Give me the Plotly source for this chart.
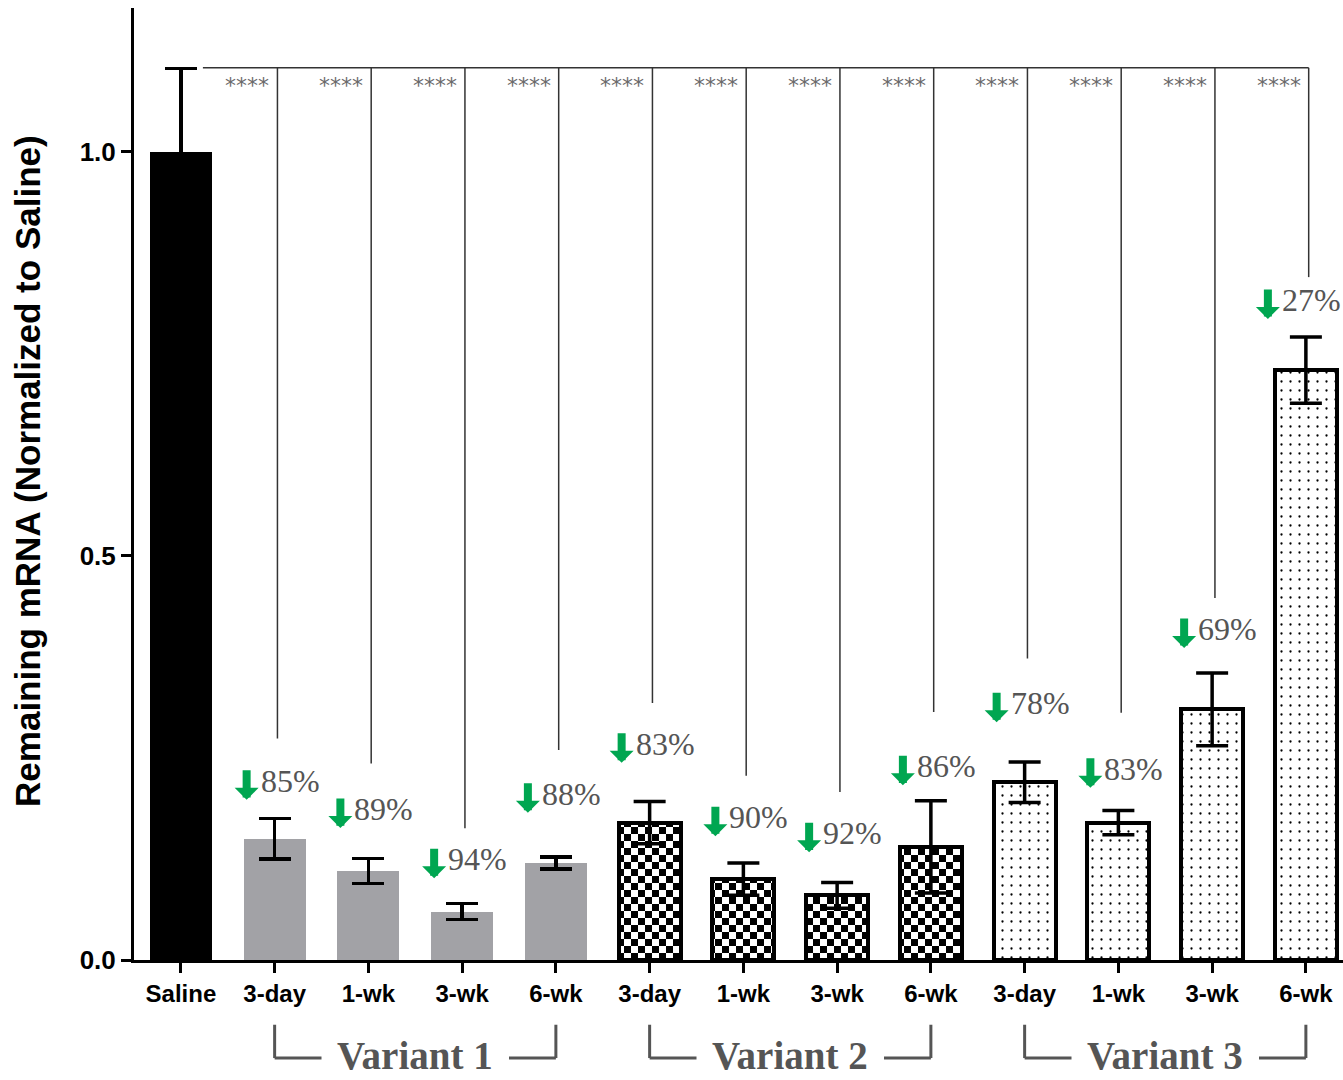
import plotly.graph_objects as go

# ---- data -------------------------------------------------------------
categories = ["Saline",
              "3-day", "1-wk", "3-wk", "6-wk",
              "3-day", "1-wk", "3-wk", "6-wk",
              "3-day", "1-wk", "3-wk", "6-wk"]
knockdown_pct = [None, 85, 89, 94, 88, 83, 90, 92, 86, 78, 83, 69, 27]
remaining = [1.0] + [round(1 - p / 100, 2) for p in knockdown_pct[1:]]
sem = [0.103, 0.025, 0.0155, 0.010, 0.0075,
       0.026, 0.020, 0.016, 0.057,
       0.025, 0.015, 0.045, 0.041]
groups = ["Variant 1", "Variant 2", "Variant 3"]
group_members = [[1, 2, 3, 4], [5, 6, 7, 8], [9, 10, 11, 12]]

# significance bracket: common top and the lower end of each drop line
sig_top = 1.104
sig_line_bottom = [0.274, 0.243, 0.163, 0.260, 0.318, 0.228,
                   0.208, 0.307, 0.373, 0.306, 0.448, 0.845]
sig_text = "****"
# vertical centre of each knockdown label
label_y = [0.218, 0.183, 0.121, 0.202, 0.264, 0.173,
           0.153, 0.236, 0.314, 0.233, 0.406, 0.813]

x_pos = list(range(len(categories)))
BAR_W = 0.66
SANS = "Liberation Sans, Arial, sans-serif"
SERIF = "Liberation Serif, Times New Roman, serif"
GREEN = "#00a651"

fig = go.Figure()


def add_bars(idx, marker, name):
    fig.add_trace(go.Bar(
        x=[x_pos[i] for i in idx],
        y=[remaining[i] for i in idx],
        width=BAR_W,
        marker=marker,
        error_y=dict(type="data", array=[sem[i] for i in idx],
                     color="black", thickness=3.5, width=16),
        name=name, showlegend=False, hoverinfo="skip",
    ))


add_bars([0], dict(color="black", line=dict(width=0)), "Saline")
add_bars(group_members[0], dict(color="#a2a2a6", line=dict(width=0)), groups[0])
add_bars(group_members[1], dict(
    color="white", line=dict(color="black", width=4),
    pattern=dict(path="M0,0H7V7H0Z M7,7H14V14H7Z", size=14,
                 fgcolor="black", bgcolor="white", fgopacity=1),
), groups[1])
add_bars(group_members[2], dict(
    color="white", line=dict(color="black", width=4),
    pattern=dict(shape=".", size=9, solidity=0.05,
                 fgcolor="black", bgcolor="white", fgopacity=1),
), groups[2])

shapes = []
annotations = []

# significance bracket from Saline to every treated bar
drop_x = [x_pos[i] + 0.03 for i in range(1, len(categories))]
shapes.append(dict(type="line", xref="x", yref="y",
                   x0=0.235, x1=drop_x[-1], y0=sig_top, y1=sig_top,
                   line=dict(color="#333333", width=1.5)))
for xd, yb in zip(drop_x, sig_line_bottom):
    shapes.append(dict(type="line", xref="x", yref="y",
                       x0=xd, x1=xd, y0=sig_top, y1=yb,
                       line=dict(color="#333333", width=1.5)))
    annotations.append(dict(x=xd, y=1.082, xref="x", yref="y",
                            text=sig_text, showarrow=False,
                            xanchor="right", yanchor="middle", xshift=-6,
                            font=dict(family="DejaVu Sans", size=22,
                                      color="#6a6a6a")))

# knockdown percentage labels: green block arrow + reduction text
last = len(categories) - 1
for i, ly in zip(range(1, len(categories)), label_y):
    dx = -10 if i == last else 0     # keep the right-most label on the page
    annotations.append(dict(
        x=x_pos[i], y=ly, xref="x", yref="y", text="",
        showarrow=True, arrowhead=1, arrowsize=0.5, arrowwidth=8,
        arrowcolor=GREEN, standoff=0, startstandoff=0,
        ax=0, ay=-31, xshift=-28 + dx, yshift=-16,
    ))
    annotations.append(dict(
        x=x_pos[i], y=ly, xref="x", yref="y", showarrow=False,
        xanchor="left", yanchor="middle", xshift=-16 + dx, yshift=3,
        text="%d%%" % knockdown_pct[i],
        font=dict(family=SERIF, size=32, color="#555555"),
    ))

# group brackets and names under the axis
br_top, br_bot = -0.068, -0.103
for name, idx in zip(groups, group_members):
    first, last_x = x_pos[idx[0]], x_pos[idx[-1]]
    mid = (first + last_x) / 2
    line = dict(color="#555555", width=3)
    shapes += [
        dict(type="line", xref="x", yref="paper", x0=first, x1=first,
             y0=br_top, y1=br_bot, line=line),
        dict(type="line", xref="x", yref="paper", x0=first, x1=mid - 1.0,
             y0=br_bot, y1=br_bot, line=line),
        dict(type="line", xref="x", yref="paper", x0=mid + 1.0, x1=last_x,
             y0=br_bot, y1=br_bot, line=line),
        dict(type="line", xref="x", yref="paper", x0=last_x, x1=last_x,
             y0=br_top, y1=br_bot, line=line),
    ]
    annotations.append(dict(x=mid, y=-0.125, xref="x", yref="paper",
                            text=name, showarrow=False,
                            xanchor="center", yanchor="bottom",
                            font=dict(family=SERIF, size=39, color="#555555",
                                      weight="bold")))

# y-axis title
annotations.append(dict(x=-0.0877, y=0.5137, xref="paper", yref="paper",
                        text="<b>Remaining mRNA (Normalized to Saline)</b>",
                        textangle=-90, showarrow=False,
                        xanchor="center", yanchor="middle",
                        font=dict(family=SANS, size=35, color="black")))

fig.update_layout(
    width=1343, height=1080,
    margin=dict(l=134, r=0, t=8, b=120, pad=0),
    paper_bgcolor="white", plot_bgcolor="white",
    barmode="overlay", bargap=0,
    shapes=shapes, annotations=annotations,
    xaxis=dict(range=[-0.5, 12.396], tickmode="array", tickvals=x_pos,
               ticktext=["<b>%s</b>" % c for c in categories],
               showline=True, linecolor="black", linewidth=3,
               ticks="outside", ticklen=10, tickwidth=3, tickcolor="black",
               showgrid=False, zeroline=False,
               tickfont=dict(family=SANS, size=24, color="black")),
    yaxis=dict(range=[0, 1.178], tickmode="array", tickvals=[0, 0.5, 1.0],
               ticktext=["<b>0.0</b>", "<b>0.5</b>", "<b>1.0</b>"],
               showline=True, linecolor="black", linewidth=3,
               ticks="outside", ticklen=10, tickwidth=3, tickcolor="black",
               showgrid=False, zeroline=False,
               tickfont=dict(family=SANS, size=26, color="black")),
)

fig.write_html("out.html")
